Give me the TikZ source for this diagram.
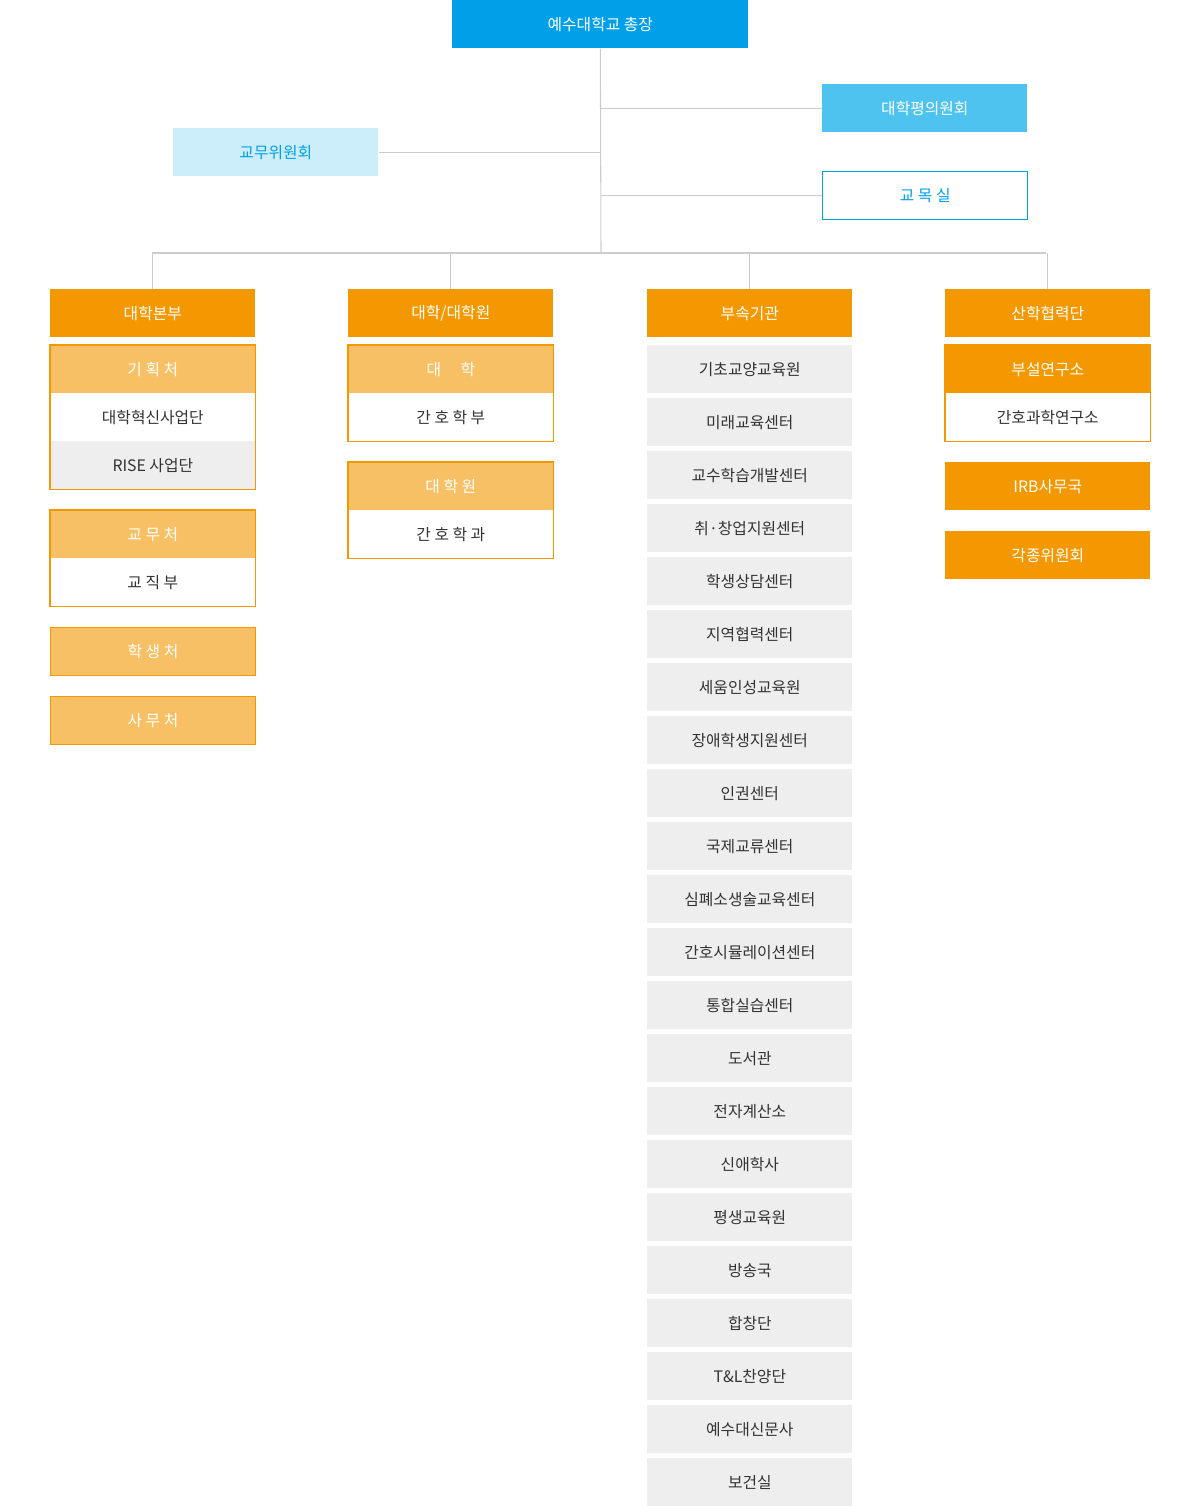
\documentclass[tikz,border=0pt]{standalone}
\usepackage{fontspec}
\setmainfont{Noto Sans CJK KR}
\definecolor{chief}{HTML}{00A0E9}
\definecolor{council}{HTML}{4FC3F0}
\definecolor{pale}{HTML}{CCEEFA}
\definecolor{deep}{HTML}{F39800}
\definecolor{soft}{HTML}{F8C065}
\definecolor{greybox}{HTML}{EEEEEE}
\definecolor{wire}{HTML}{CCCCCC}
\definecolor{ink}{HTML}{333333}
\tikzset{
  unit/.style = {minimum width=4.1cm, minimum height=0.96cm, inner sep=0pt, anchor=north west, font=\fontsize{9}{11}\selectfont},
  head/.style = {unit, fill=deep, text=white},
  sub/.style = {unit, fill=soft, text=white},
  plain/.style = {unit, fill=white, text=ink},
  grey/.style = {unit, fill=greybox, text=ink},
  frame/.style = {draw=deep, line width=0.6pt},
  wirel/.style = {draw=wire, line width=0.6pt}
}
\begin{document}
\begin{tikzpicture}[x=0.02cm, y=-0.02cm]
\useasboundingbox (0,0) rectangle (1200,1506);

% top level
\node[unit, minimum width=5.92cm, fill=chief, text=white] (chief) at (452,0) {예수대학교 총장};
\node[unit, fill=council, text=white] (senate) at (822,84) {대학평의원회};
\node[unit, draw=chief, line width=0.8pt, text=chief] (chapel) at (822,171) {교 목 실};
\node[unit, fill=pale, text=chief] (board) at (173,128) {교무위원회};

\coordinate (hub) at (601,253);
\draw[wirel] (chief.south) -- (hub);
\draw[wirel] (senate.west) -- (senate.west -| hub);
\draw[wirel] (chapel.west) -- (chapel.west -| hub);
\draw[wirel] (board.east) -- (board.east -| hub);
\draw[wirel] (152,253) -- (1046,253);

% column heads
\node[head] (main) at (50,289) {대학본부};
\node[head] (school) at (348,289) {대학/대학원};
\node[head] (annex) at (647,289) {부속기관};
\node[head] (coop) at (945,289) {산학협력단};
\foreach \c in {main,school,annex,coop} {\draw[wirel] (\c.north) -- (\c.north |- hub);}

% 대학본부
\node[sub] (plan) at (50,345) {기 획 처};
\node[plain] (innov) at (50,393) {대학혁신사업단};
\node[grey] (rise) at (50,441) {RISE 사업단};
\draw[frame] (plan.north west) rectangle (rise.south east);
\node[sub] (acad) at (50,510) {교 무 처};
\node[plain] (staff) at (50,558) {교 직 부};
\draw[frame] (acad.north west) rectangle (staff.south east);
\node[sub, frame] (student) at (50,627) {학 생 처};
\node[sub, frame] (office) at (50,696) {사 무 처};

% 대학/대학원
\node[sub] (college) at (348,345) {대 \quad 학};
\node[plain] (nursing) at (348,393) {간 호 학 부};
\draw[frame] (college.north west) rectangle (nursing.south east);
\node[sub] (grad) at (348,462) {대 학 원};
\node[plain] (nursdept) at (348,510) {간 호 학 과};
\draw[frame] (grad.north west) rectangle (nursdept.south east);

% 부속기관
\foreach \t [count=\i from 0] in {기초교양교육원,미래교육센터,교수학습개발센터,취·창업지원센터,학생상담센터,지역협력센터,세움인성교육원,장애학생지원센터,인권센터,국제교류센터,심폐소생술교육센터,간호시뮬레이션센터,통합실습센터,도서관,전자계산소,신애학사,평생교육원,방송국,합창단,T\&L찬양단,예수대신문사,보건실}
  {\node[grey] (annex\i) at (647,345+53*\i) {\t};}

% 산학협력단
\node[head] (lab) at (945,345) {부설연구소};
\node[plain] (nurslab) at (945,393) {간호과학연구소};
\draw[frame] (lab.north west) rectangle (nurslab.south east);
\node[head] (irb) at (945,462) {IRB사무국};
\node[head] (comm) at (945,531) {각종위원회};

\end{tikzpicture}
\end{document}
